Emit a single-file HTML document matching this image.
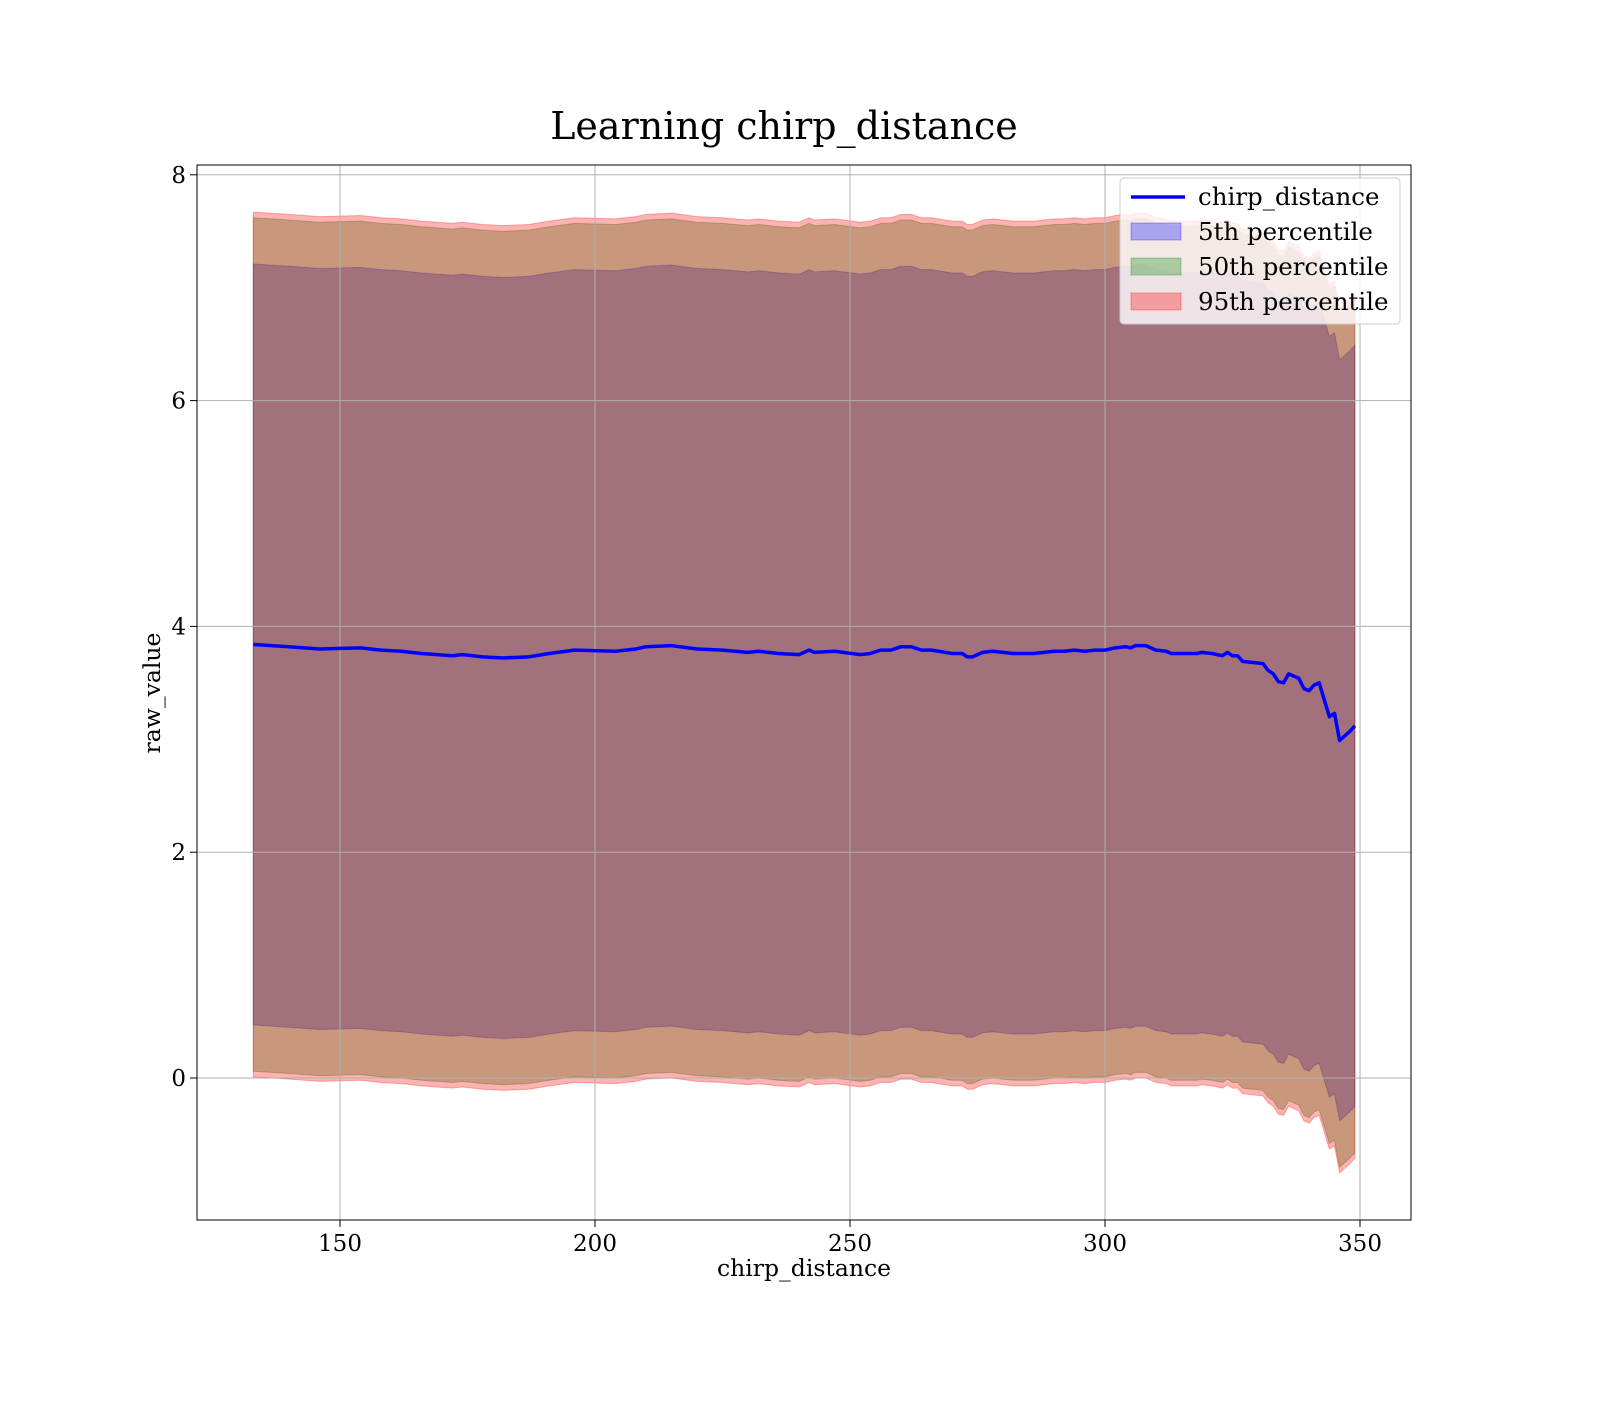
<!DOCTYPE html>
<html><head><meta charset="utf-8"><style>
body{margin:0;background:#fff}
svg text{font-family:"DejaVu Serif","Liberation Serif",serif;fill:#000}
</style></head><body>
<svg id="chart" width="1600" height="1400" xmlns="http://www.w3.org/2000/svg">
<rect width="1600" height="1400" fill="#fff"/>
<text x="784" y="139" font-size="38" text-anchor="middle">Learning chirp_distance</text>
<g id="bands"></g>
<g id="grid"></g>
<g id="line"></g>
<rect x="197" y="165" width="1214" height="1055" fill="none" stroke="#000" stroke-width="1"/>
<g id="ticks"></g>
<text x="804" y="1276" font-size="23.5" text-anchor="middle">chirp_distance</text>
<text x="0" y="0" font-size="23.5" text-anchor="middle" transform="translate(160,693) rotate(-90)">raw_value</text>
<g>
<rect x="1120" y="178" width="280" height="146" rx="4" fill="#fff" fill-opacity="0.8" stroke="#ccc"/>
<line x1="1131" y1="197" x2="1185" y2="197" stroke="#0000ff" stroke-width="3.5"/>
<text x="1198" y="205" font-size="24.5">chirp_distance</text>
<rect x="1131" y="223" width="50" height="17" fill="#0000ff" fill-opacity="0.3" stroke="#0000ff" stroke-opacity="0.3"/>
<text x="1198" y="240" font-size="24.5">5th percentile</text>
<rect x="1131" y="258" width="50" height="17" fill="#008000" fill-opacity="0.3" stroke="#008000" stroke-opacity="0.3"/>
<text x="1198" y="275" font-size="24.5">50th percentile</text>
<rect x="1131" y="293" width="50" height="17" fill="#ff0000" fill-opacity="0.3" stroke="#ff0000" stroke-opacity="0.3"/>
<text x="1198" y="310" font-size="24.5">95th percentile</text>
</g>
</svg>
<script>
const xs=[133,140,146,154,158,162,166,172,174,178,182,187,191,196,204,208,210,215,220,225,230,232,236,240,242,243,247,252,254,256,258,260,262,264,266,270,272,273,274,276,278,282,286,290,292,294,296,298,300,302,304,305,306,308,310,312,313,315,318,319,321,323,324,325,326,327,329,331,332,333,334,335,336,338,339,340,341,342,344,345,346,348,349];
const meanVals=[3.84,3.82,3.80,3.81,3.79,3.78,3.76,3.74,3.75,3.73,3.72,3.73,3.76,3.79,3.78,3.80,3.82,3.83,3.80,3.79,3.77,3.78,3.76,3.75,3.79,3.77,3.78,3.75,3.76,3.79,3.79,3.82,3.82,3.79,3.79,3.76,3.76,3.73,3.73,3.77,3.78,3.76,3.76,3.78,3.78,3.79,3.78,3.79,3.79,3.81,3.82,3.81,3.83,3.83,3.79,3.78,3.76,3.76,3.76,3.77,3.76,3.74,3.77,3.74,3.74,3.69,3.68,3.67,3.61,3.58,3.51,3.50,3.58,3.54,3.45,3.43,3.48,3.50,3.20,3.23,2.99,3.07,3.12];
const bandNames=["p5","p50","p95"];
const bandHalfWidths=[3.37,3.78,3.83];
const bandColors=["#0000ff","#008000","#ff0000"];
const xTicks=[150,200,250,300,350];
const yTicks=[0,2,4,6,8];
const X=v=>340+(v-150)*5.1;
const Y=v=>1078-v*112.9;
const NS="http://www.w3.org/2000/svg";
function mk(parent,tag,attrs){const e=document.createElementNS(NS,tag);for(const k in attrs)e.setAttribute(k,attrs[k]);document.getElementById(parent).appendChild(e);return e;}
xTicks.forEach(t=>{
 const g=mk("grid","line",{x1:X(t),x2:X(t),y1:165,y2:1220,stroke:"#b0b0b0","stroke-width":1});
 
 
 const tk=mk("ticks","line",{x1:X(t),x2:X(t),y1:1220,y2:1227,stroke:"#000"});
 
 
 const l=mk("ticks","text",{x:X(t),y:1251,"font-size":23,"text-anchor":"middle"});
 l.textContent=t;
 
 
});
yTicks.forEach(t=>{
 const g=mk("grid","line",{x1:197,x2:1411,y1:Y(t),y2:Y(t),stroke:"#b0b0b0","stroke-width":1});
 
 
 const tk=mk("ticks","line",{x1:190,x2:197,y1:Y(t),y2:Y(t),stroke:"#000"});
 
 
 const l=mk("ticks","text",{x:186,y:Y(t)+8,"font-size":23,"text-anchor":"end"});
 l.textContent=t;
 
 
});
bandNames.forEach((n,i)=>{
 const up=xs.map((x,j)=>X(x)+","+Y(meanVals[j]+bandHalfWidths[i]));
 const lo=xs.map((x,j)=>X(x)+","+Y(meanVals[j]-bandHalfWidths[i])).reverse();
 const p=mk("bands","polygon",{points:up.concat(lo).join(" "),fill:bandColors[i],"fill-opacity":0.3,stroke:bandColors[i],"stroke-opacity":0.3});
 
 
});
const ln=mk("line","polyline",{points:xs.map((x,j)=>X(x)+","+Y(meanVals[j])).join(" "),fill:"none",stroke:"#0000ff","stroke-width":3.5,"stroke-linejoin":"round"});


</script>
</body></html>
